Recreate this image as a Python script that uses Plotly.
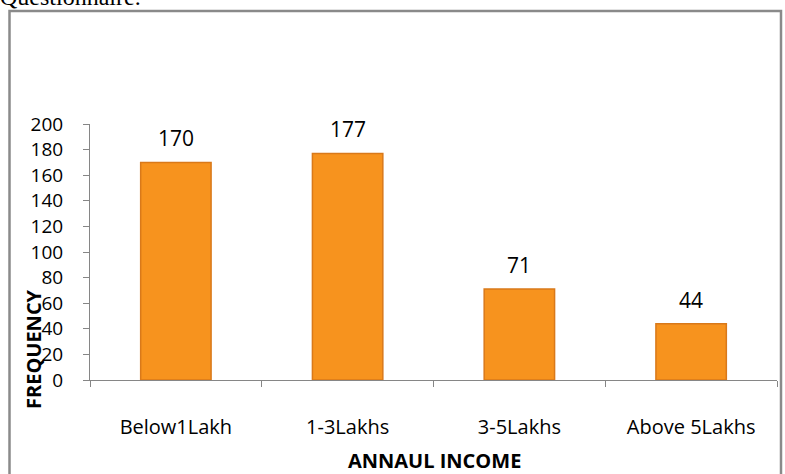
import plotly.graph_objects as go

categories = ["Below1Lakh", "1-3Lakhs", "3-5Lakhs", "Above 5Lakhs"]
frequency = [170, 177, 71, 44]
y_ticks = [0, 20, 40, 60, 80, 100, 120, 140, 160, 180, 200]

W, H = 785, 474
L, R, T, B = 90, 8, 124, 94
pw, ph = W - L - R, H - T - B

def px_x(px):
    return (px - L) / pw

def px_y(py):
    return (H - B - py) / ph

FONT = "Open Sans"

fig = go.Figure()
fig.add_trace(go.Bar(
    x=categories, y=frequency, width=0.41,
    marker=dict(color="#F7931E", line=dict(color="#D9791A", width=1.5)),
    hoverinfo="x+y",
))

for c, v in zip(categories, frequency):
    fig.add_annotation(x=c, y=v, text=str(v), showarrow=False,
                       xref="x", yref="y", yanchor="middle", yshift=24,
                       font=dict(family=FONT, size=21, color="#000000"))

fig.add_annotation(x=px_x(33), y=px_y(349), xref="paper", yref="paper",
                   xanchor="center", yanchor="middle",
                   text="<b>FREQUENCY</b>", textangle=-90, showarrow=False,
                   font=dict(family=FONT, size=20, color="#000000"))
fig.add_annotation(x=px_x(434), y=px_y(460), xref="paper", yref="paper",
                   xanchor="center", yanchor="middle",
                   text="<b>ANNAUL INCOME</b>", showarrow=False, borderpad=0,
                   font=dict(family=FONT, size=20, color="#000000"))
fig.add_annotation(x=px_x(-2), y=px_y(-3), xref="paper", yref="paper",
                   xanchor="left", yanchor="middle",
                   text="Questionnaire.", showarrow=False,
                   font=dict(family="Liberation Serif", size=24, color="#000000"))

fig.add_shape(type="rect", xref="paper", yref="paper",
              x0=px_x(9.5), x1=px_x(781), y0=px_y(490), y1=px_y(11),
              line=dict(color="#8A8A8A", width=2.5), layer="below")

fig.update_layout(
    width=W, height=H,
    margin=dict(l=L, r=R, t=T, b=B, autoexpand=False),
    paper_bgcolor="white", plot_bgcolor="white",
    showlegend=False,
    font=dict(family=FONT, size=19, color="#000000"),
)
fig.update_xaxes(
    type="category", showgrid=False, showline=True, linecolor="#868686", linewidth=1,
    ticks="outside", tickson="boundaries", ticklen=6, tickcolor="#868686",
    ticklabelstandoff=29,
    tickfont=dict(family=FONT, size=20, color="#000000"),
)
fig.update_yaxes(
    range=[0, 200], tickvals=y_ticks, showgrid=False, zeroline=False,
    showline=True, linecolor="#868686", linewidth=1,
    ticks="outside", ticklen=6, tickcolor="#868686", ticklabelstandoff=16,
    tickfont=dict(family=FONT, size=19, color="#000000"),
)

fig.write_html("out.html", config={"displayModeBar": False},
               post_script="document.body.style.margin='0px';")
